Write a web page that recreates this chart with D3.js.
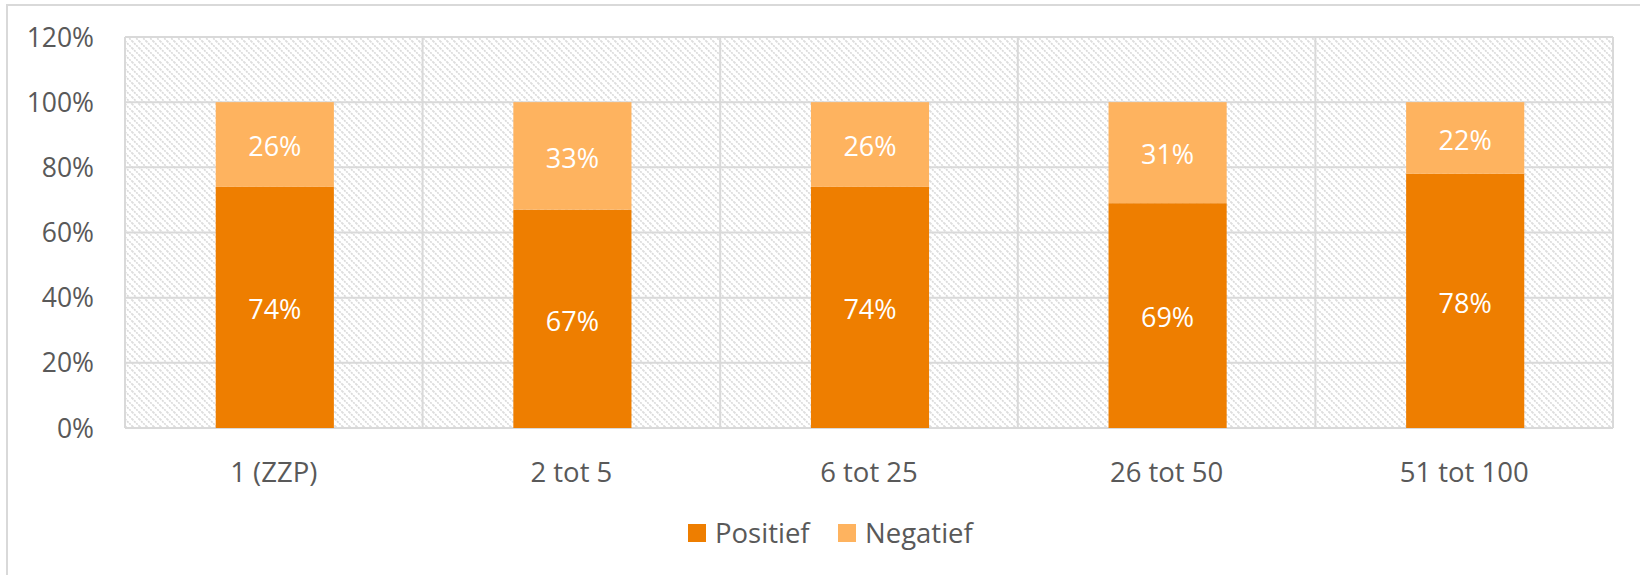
<!DOCTYPE html>
<html>
<head>
<meta charset="utf-8">
<script src="https://cdn.jsdelivr.net/npm/d3@7"></script>
<style>
  body { margin: 0; background: #fff; }
  svg { display: block; font-family: "Open Sans", sans-serif; }
</style>
</head>
<body>
<div class="canvas"></div>
<script>
const categories = ['1 (ZZP)', '2 tot 5', '6 tot 25', '26 tot 50', '51 tot 100'];
const positief = [74, 67, 74, 69, 78];
const negatief = [26, 33, 26, 31, 22];
const yTicks = [0, 20, 40, 60, 80, 100, 120];
const seriesNames = ['Positief', 'Negatief'];
const colors = ['#ee7e00', '#feb35f'];

const width = 1640, height = 575;
const margin = {left: 125, right: 27, top: 37, bottom: 147};

const svg = d3.select('.canvas')
    .append('svg')
    .attr('width', width)
    .attr('height', height);

// outer frame (runs off the right/bottom edge like the original)
svg.append('rect')
    .attr('x', 7).attr('y', 5)
    .attr('width', width).attr('height', height)
    .attr('fill', 'none')
    .attr('stroke', '#d9d9d9')
    .attr('stroke-width', 2);

// hatch pattern for the plot background
const defs = svg.append('defs');
const pat = defs.append('pattern')
    .attr('id', 'hatch')
    .attr('patternUnits', 'userSpaceOnUse')
    .attr('width', 7).attr('height', 7);
pat.append('path')
    .attr('d', 'M-1,-1 L8,8 M-1,6 L1,8 M6,-1 L8,1')
    .attr('stroke', '#dadada')
    .attr('stroke-width', 1.7)
    .attr('stroke-dasharray', '2,1');

const x = d3.scaleBand()
    .domain(categories)
    .range([margin.left, width - margin.right])
    .paddingInner(0)
    .paddingOuter(0);

const y = d3.scaleLinear()
    .domain([0, 120])
    .range([height - margin.bottom, margin.top]);

const plotW = width - margin.left - margin.right;
const plotH = y(0) - y(120);

svg.append('rect')
    .attr('x', margin.left).attr('y', margin.top)
    .attr('width', plotW).attr('height', plotH)
    .attr('fill', 'url(#hatch)');

// horizontal gridlines
svg.append('g')
    .selectAll('line')
    .data(yTicks)
    .join('line')
    .attr('x1', margin.left).attr('x2', width - margin.right)
    .attr('y1', d => y(d)).attr('y2', d => y(d))
    .attr('stroke', '#d9d9d9')
    .attr('stroke-width', 2);

// vertical gridlines at category boundaries
const bounds = categories.map(c => x(c)).concat([width - margin.right]);
svg.append('g')
    .selectAll('line')
    .data(bounds)
    .join('line')
    .attr('x1', d => d).attr('x2', d => d)
    .attr('y1', y(0)).attr('y2', y(120))
    .attr('stroke', '#d9d9d9')
    .attr('stroke-width', 2);

// y tick labels
svg.append('g')
    .selectAll('text')
    .data(yTicks)
    .join('text')
    .attr('x', 94)
    .attr('y', d => y(d))
    .attr('dy', '0.36em')
    .attr('text-anchor', 'end')
    .attr('fill', '#595959')
    .style('font-size', '26.5px')
    .text(d => d + '%');

// x labels
svg.append('g')
    .selectAll('text')
    .data(categories)
    .join('text')
    .attr('x', d => x(d) + x.bandwidth() / 2)
    .attr('y', 482)
    .attr('text-anchor', 'middle')
    .attr('fill', '#595959')
    .style('font-size', '27.5px')
    .text(d => d);

// stacked bars
const rows = categories.map((c, i) => ({cat: c, Positief: positief[i], Negatief: negatief[i]}));
const stacked = d3.stack().keys(seriesNames)(rows);
const barW = x.bandwidth() * 0.397;

const layers = svg.append('g')
    .selectAll('g')
    .data(stacked)
    .join('g')
    .attr('fill', (d, i) => colors[i]);

layers.selectAll('rect')
    .data(d => d)
    .join('rect')
    .attr('x', d => x(d.data.cat) + x.bandwidth() / 2 - barW / 2 + 1)
    .attr('y', d => y(d[1]))
    .attr('width', barW)
    .attr('height', d => y(d[0]) - y(d[1]));

// value labels
layers.selectAll('text')
    .data(d => d)
    .join('text')
    .attr('x', d => x(d.data.cat) + x.bandwidth() / 2 + 1)
    .attr('y', d => y((d[0] + d[1]) / 2) + 2)
    .attr('dy', '0.36em')
    .attr('text-anchor', 'middle')
    .attr('fill', '#fff')
    .style('font-size', '27px')
    .text(d => (d[1] - d[0]) + '%');

// legend
const legendX = [688, 838];
const legend = svg.append('g')
    .selectAll('g')
    .data(seriesNames)
    .join('g')
    .attr('transform', (d, i) => `translate(${legendX[i]}, 524)`);

legend.append('rect')
    .attr('width', 18).attr('height', 18)
    .attr('fill', (d, i) => colors[i]);

legend.append('text')
    .attr('x', 27)
    .attr('y', 9)
    .attr('dy', '0.36em')
    .attr('fill', '#595959')
    .style('font-size', '27.5px')
    .text(d => d);
</script>
</body>
</html>
